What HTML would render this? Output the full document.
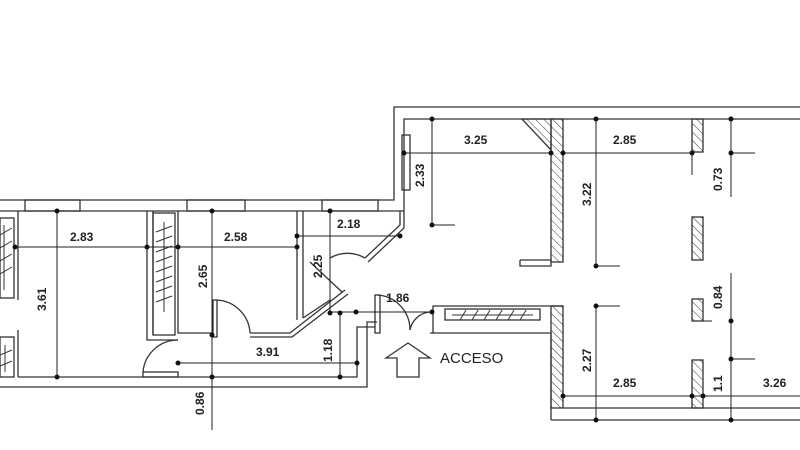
<!DOCTYPE html>
<html><head><meta charset="utf-8"><style>
html,body{margin:0;padding:0;background:#fff;}
svg{display:block;}
text{font-family:"Liberation Sans",Arial,sans-serif;font-weight:bold;font-size:12px;fill:#222;}
</style></head><body>
<svg width="800" height="450" viewBox="0 0 800 450" xmlns="http://www.w3.org/2000/svg">
<defs>
<pattern id="h" width="6" height="6" patternUnits="userSpaceOnUse" patternTransform="rotate(-45)">
<line x1="0" y1="0" x2="0" y2="6" stroke="#333" stroke-width="1"/></pattern>
</defs>
<g fill="none" stroke="#333" stroke-width="1.3">
<polyline points="0,200 394,200 394,107 800,107"/>
<polyline points="0,211 404,211"/>
<polyline points="404,211 404,119 800,119"/>
<polyline points="0,387 367,387 367,322 377,322"/>
<polyline points="18,377 357,377 357,327 375,327"/>
<rect x="25" y="200" width="55" height="11"/>
<rect x="187" y="200" width="58" height="11"/>
<rect x="322" y="200" width="56" height="11"/>
<rect x="402" y="135" width="8" height="55"/>
<rect x="0" y="218" width="14" height="80"/>
<rect x="0" y="337" width="14" height="40"/>
<line x1="18" y1="211" x2="18" y2="300"/>
<line x1="18" y1="330" x2="18" y2="377"/>
<polyline points="147,211 147,340 178,340"/>
<polyline points="153,211 153,335"/>
<rect x="153" y="213" width="22" height="122"/>
<polyline points="178,211 178,333 213,333"/>
<polyline points="250,333 290,333 345,290"/>
<polyline points="250,337 292,337 348,294"/>
<line x1="297" y1="211" x2="297" y2="320"/>
<line x1="303" y1="211" x2="303" y2="318"/>
<polyline points="303,318 330,300"/>
<polyline points="400,211 400,225 365,258"/>
<polyline points="404,211 404,228 368,262"/>
<path d="M330,258 A35,35 0 0 1 365,258"/>
<line x1="310" y1="262" x2="342" y2="292"/>
<rect x="213" y="300" width="4" height="37"/>
<path d="M217,300 A35,35 0 0 1 250,333"/>
<rect x="143" y="372" width="35" height="5"/>
<path d="M143,372 A35,35 0 0 1 178,340"/>
<rect x="375" y="295" width="5" height="38"/>
<path d="M378,295 A35,35 0 0 1 410,330"/>
<path d="M430,312 A22,22 0 0 0 410,330"/>
<polyline points="430,333 433,333 433,306 563,306"/>
<polyline points="433,333 551,333 551,420"/>
<rect x="445" y="309" width="95" height="11"/>
<polygon points="386,358 408,343 430,358 419,358 419,377 397,377 397,358"/>
<polyline points="551,420 800,420"/>
<polyline points="563,408 800,408"/>
<rect x="551" y="119" width="12" height="143" fill="url(#h)"/>
<polyline points="520,260 551,260 551,266 520,266 520,260"/>
<polygon points="522,119 551,119 551,150" fill="url(#h)"/>
<rect x="551" y="306" width="12" height="102" fill="url(#h)"/>
<rect x="692" y="119" width="11" height="33" fill="url(#h)"/>
<rect x="692" y="217" width="11" height="43" fill="url(#h)"/>
<rect x="692" y="299" width="11" height="22" fill="url(#h)"/>
<rect x="692" y="360" width="11" height="48" fill="url(#h)"/>
</g>
<!-- closet zigzags -->
<g stroke="#333" stroke-width="1" fill="none">
<line x1="164" y1="222" x2="164" y2="312"/>
<path d="M156,232 L172,226 M156,242 L172,236 M156,252 L172,246 M156,262 L172,256 M156,272 L172,266 M156,282 L172,276 M156,292 L172,286 M156,302 L172,296"/>
<line x1="4" y1="225" x2="4" y2="290"/>
<path d="M0,235 L12,228 M0,248 L12,241 M0,261 L12,254 M0,274 L12,267"/>
<line x1="5" y1="345" x2="5" y2="372"/>
<path d="M0,355 L12,350 M0,366 L12,361"/>
<line x1="452" y1="315" x2="533" y2="315"/>
<path d="M460,320 L466,310 M472,320 L478,310 M484,320 L490,310 M496,320 L502,310 M508,320 L514,310 M520,320 L526,310"/>
</g>
<g stroke="#222" stroke-width="1" fill="none">
<line x1="15" y1="247" x2="297" y2="247"/>
<line x1="57" y1="211" x2="57" y2="377"/>
<line x1="212" y1="211" x2="212" y2="430"/>
<line x1="178" y1="363" x2="357" y2="363"/>
<line x1="340" y1="313" x2="340" y2="377"/>
<line x1="330" y1="211" x2="330" y2="313"/>
<line x1="297" y1="236" x2="400" y2="236"/>
<line x1="330" y1="312" x2="432" y2="312"/>
<line x1="404" y1="153" x2="553" y2="153"/>
<line x1="563" y1="153" x2="692" y2="153"/>
<line x1="432" y1="119" x2="432" y2="225"/>
<line x1="432" y1="225" x2="455" y2="225"/>
<line x1="596" y1="119" x2="596" y2="266"/>
<line x1="596" y1="266" x2="620" y2="266"/>
<line x1="596" y1="306" x2="596" y2="420"/>
<line x1="596" y1="306" x2="620" y2="306"/>
<line x1="731" y1="119" x2="731" y2="197"/>
<line x1="731" y1="153" x2="755" y2="153"/>
<line x1="731" y1="273" x2="731" y2="420"/>
<line x1="731" y1="359" x2="755" y2="359"/>
<line x1="692" y1="152" x2="692" y2="175"/>
<line x1="703" y1="321" x2="712" y2="321"/>
<line x1="563" y1="396" x2="800" y2="396"/>
</g>
<g fill="#111">
<circle cx="15" cy="247" r="2.5"/><circle cx="147" cy="247" r="2.5"/><circle cx="178" cy="247" r="2.5"/><circle cx="297" cy="247" r="2.5"/>
<circle cx="57" cy="211" r="2.5"/><circle cx="57" cy="377" r="2.5"/>
<circle cx="212" cy="211" r="2.5"/><circle cx="212" cy="335" r="2.5"/><circle cx="212" cy="377" r="2.5"/>
<circle cx="178" cy="363" r="2.5"/><circle cx="357" cy="363" r="2.5"/>
<circle cx="340" cy="313" r="2.5"/><circle cx="340" cy="377" r="2.5"/>
<circle cx="330" cy="211" r="2.5"/><circle cx="330" cy="313" r="2.5"/>
<circle cx="297" cy="236" r="2.5"/><circle cx="400" cy="236" r="2.5"/>
<circle cx="356" cy="312" r="2.5"/><circle cx="432" cy="312" r="2.5"/>
<circle cx="404" cy="153" r="2.5"/><circle cx="551" cy="153" r="2.5"/><circle cx="563" cy="153" r="2.5"/><circle cx="692" cy="153" r="2.5"/>
<circle cx="432" cy="119" r="2.5"/><circle cx="432" cy="225" r="2.5"/>
<circle cx="596" cy="119" r="2.5"/><circle cx="596" cy="266" r="2.5"/>
<circle cx="596" cy="306" r="2.5"/><circle cx="596" cy="420" r="2.5"/>
<circle cx="731" cy="119" r="2.5"/><circle cx="731" cy="153" r="2.5"/>
<circle cx="731" cy="321" r="2.5"/><circle cx="731" cy="359" r="2.5"/><circle cx="731" cy="420" r="2.5"/>
<circle cx="563" cy="396" r="2.5"/><circle cx="692" cy="396" r="2.5"/><circle cx="703" cy="396" r="2.5"/>
</g>
<text x="70" y="241">2.83</text>
<text x="224" y="241">2.58</text>
<text x="337" y="228">2.18</text>
<text x="256" y="356">3.91</text>
<text x="386" y="302">1.86</text>
<text x="464" y="144">3.25</text>
<text x="613" y="144">2.85</text>
<text x="613" y="387">2.85</text>
<text x="763" y="387">3.26</text>
<text x="440" y="363" style="font-weight:normal;font-size:15px">ACCESO</text>
<text transform="translate(46,311) rotate(-90)">3.61</text>
<text transform="translate(207,288) rotate(-90)">2.65</text>
<text transform="translate(322,278) rotate(-90)">2.25</text>
<text transform="translate(332,362) rotate(-90)">1.18</text>
<text transform="translate(204,415) rotate(-90)">0.86</text>
<text transform="translate(424,187) rotate(-90)">2.33</text>
<text transform="translate(591,206) rotate(-90)">3.22</text>
<text transform="translate(722,191) rotate(-90)">0.73</text>
<text transform="translate(722,309) rotate(-90)">0.84</text>
<text transform="translate(591,372) rotate(-90)">2.27</text>
<text transform="translate(722,392) rotate(-90)">1.1</text>
</svg>
</body></html>
